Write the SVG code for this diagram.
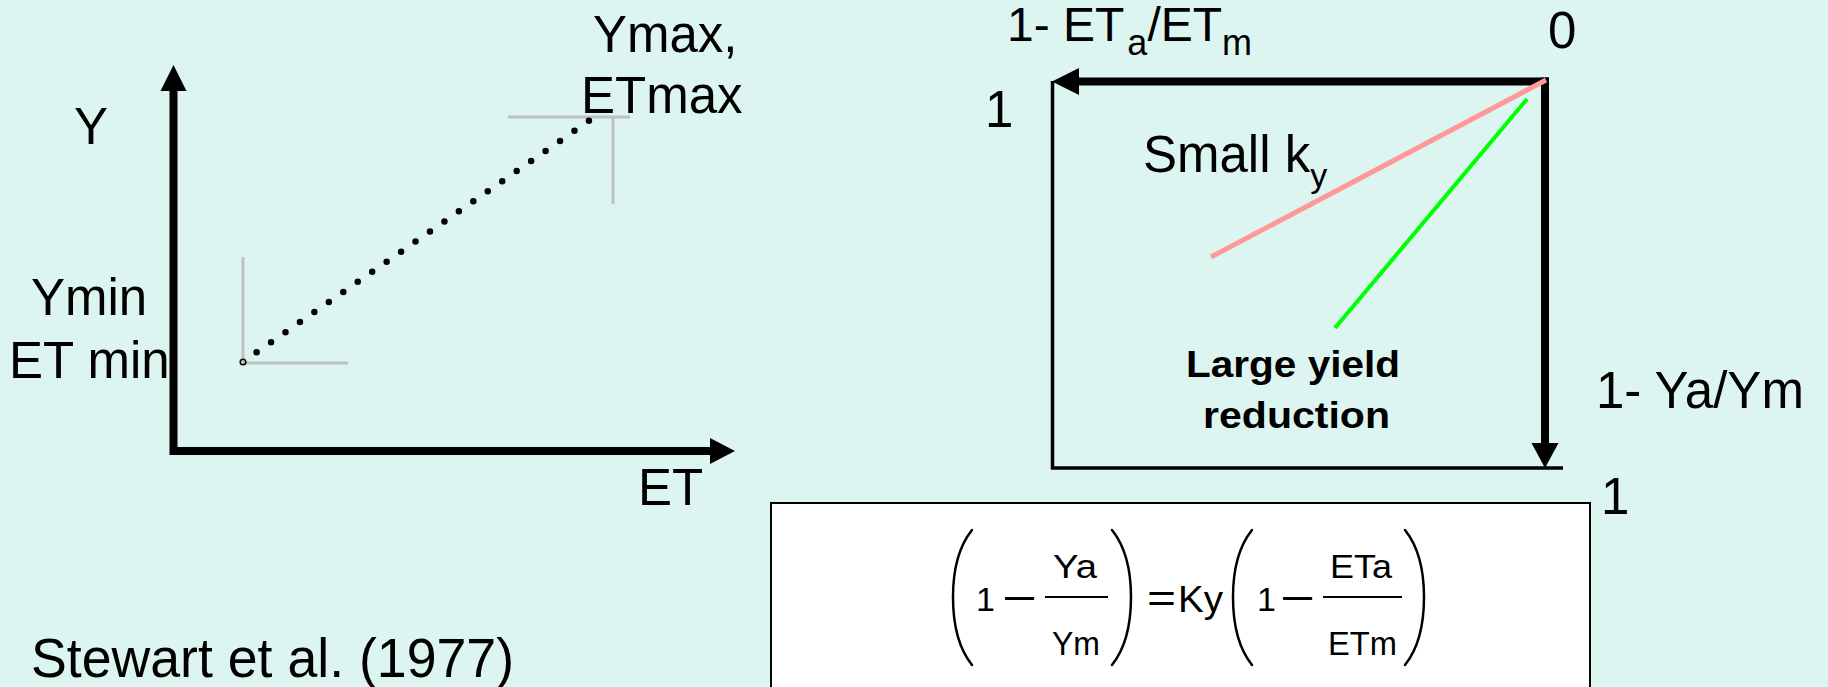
<svg xmlns="http://www.w3.org/2000/svg" width="1828" height="687" viewBox="0 0 1828 687">
<style>
.t{font-family:"Liberation Sans",Arial,Helvetica,sans-serif;fill:#000}
.big{font-size:51px}
.eq{font-size:34px}
.gray{stroke:#C0C0C0;stroke-width:3;fill:none}
.ax{stroke:#000;stroke-width:8;fill:none}
.thin{stroke:#000;stroke-width:3.5;fill:none}
.par{stroke:#000;stroke-width:2.5;fill:none;stroke-linecap:round}
.bar{stroke:#000;stroke-width:2.2}
</style>
<rect x="0" y="0" width="1828" height="687" fill="#DDF5F0"/>

<g id="left-chart">
  <text class="t big" x="593" y="52">Ymax,</text>
  <text class="t big" x="581" y="113">ETmax</text>
  <text class="t big" x="74" y="144">Y</text>
  <text class="t big" x="31" y="315">Ymin</text>
  <text class="t big" x="9" y="378">ET min</text>
  <text class="t big" x="638" y="505">ET</text>
  <line class="gray" x1="243" y1="257" x2="243" y2="363"/>
  <line class="gray" x1="243" y1="363" x2="348" y2="363"/>
  <line class="gray" x1="508" y1="117" x2="630" y2="117"/>
  <line class="gray" x1="613" y1="117" x2="613" y2="204"/>
  <circle cx="243" cy="362" r="2.8" fill="none" stroke="#000" stroke-width="1.5"/>
  <line x1="256.6" y1="352.3" x2="589" y2="120.7" stroke="#000" stroke-width="6.5" stroke-linecap="round" stroke-dasharray="0 17.61"/>
</g>

<g id="right-chart">
  <text class="t" x="1007" y="41" font-size="48">1- ET<tspan font-size="36" dx="3" y="55">a</tspan><tspan y="41">/ET</tspan><tspan font-size="36" y="55">m</tspan></text>
  <text class="t big" x="1548" y="48">0</text>
  <text class="t big" x="985" y="127">1</text>
  <text class="t big" x="1143" y="172">Small k<tspan font-size="34" y="187">y</tspan></text>
  <text class="t" x="1186" y="377" font-size="37" font-weight="bold" textLength="214" lengthAdjust="spacingAndGlyphs">Large yield</text>
  <text class="t" x="1203" y="428" font-size="37" font-weight="bold" textLength="187" lengthAdjust="spacingAndGlyphs">reduction</text>
  <text class="t big" x="1596" y="408">1- Ya/Ym</text>
  <text class="t big" x="1601" y="514">1</text>
  <line class="thin" x1="1052.5" y1="81" x2="1052.5" y2="469"/>
  <line class="thin" x1="1051" y1="468" x2="1563" y2="468"/>
</g>

<g id="connectors">
  <line class="ax" x1="173.5" y1="455" x2="173.5" y2="88"/>
  <polygon points="173.5,65 160.5,91 186.5,91" fill="#000"/>
  <line class="ax" x1="170" y1="451" x2="712" y2="451"/>
  <polygon points="735,451 710,438 710,464" fill="#000"/>
  <line class="ax" x1="1549" y1="81.5" x2="1077" y2="81.5"/>
  <polygon points="1052,81.5 1079,68 1079,95" fill="#000"/>
  <line class="ax" x1="1545" y1="77.5" x2="1545" y2="445"/>
  <polygon points="1545,468 1531.5,443 1558.5,443" fill="#000"/>
  <line x1="1546" y1="80" x2="1211" y2="257" stroke="#FF9999" stroke-width="5"/>
  <line x1="1527" y1="99" x2="1335" y2="328" stroke="#00FF00" stroke-width="4"/>
</g>

<g id="equation">
  <rect x="771" y="503" width="819" height="200" fill="#FFFFFF" stroke="#000" stroke-width="2"/>
  <path class="par" d="M972,530 C956,550 953,575 953,597 C953,620 956,645 972,665"/>
  <path class="par" d="M1112,530 C1128,550 1131,575 1131,597 C1131,620 1128,645 1112,665"/>
  <path class="par" d="M1252,530 C1236,550 1233,575 1233,597 C1233,620 1236,645 1252,665"/>
  <path class="par" d="M1405,530 C1421,550 1424,575 1424,597 C1424,620 1421,645 1405,665"/>
  <text class="t eq" x="976" y="611">1</text>
  <text class="t" x="1005" y="607" font-size="29" font-weight="bold">—</text>
  <line class="bar" x1="1045" y1="597" x2="1108" y2="597"/>
  <text class="t eq" x="1053" y="578" textLength="44" lengthAdjust="spacingAndGlyphs">Ya</text>
  <text class="t eq" x="1052" y="655" textLength="48" lengthAdjust="spacingAndGlyphs">Ym</text>
  <text class="t" x="1147" y="612" font-size="40" textLength="29" lengthAdjust="spacingAndGlyphs">=</text>
  <text class="t" x="1178" y="612" font-size="36" textLength="45" lengthAdjust="spacingAndGlyphs">Ky</text>
  <text class="t eq" x="1257" y="611">1</text>
  <text class="t" x="1283" y="607" font-size="29" font-weight="bold">—</text>
  <line class="bar" x1="1323" y1="597" x2="1402" y2="597"/>
  <text class="t eq" x="1330" y="578" textLength="62" lengthAdjust="spacingAndGlyphs">ETa</text>
  <text class="t eq" x="1328" y="655" textLength="69" lengthAdjust="spacingAndGlyphs">ETm</text>
</g>

<g id="citation">
  <text class="t" x="31" y="677" font-size="56" textLength="483" lengthAdjust="spacingAndGlyphs">Stewart et al. (1977)</text>
</g>
</svg>
